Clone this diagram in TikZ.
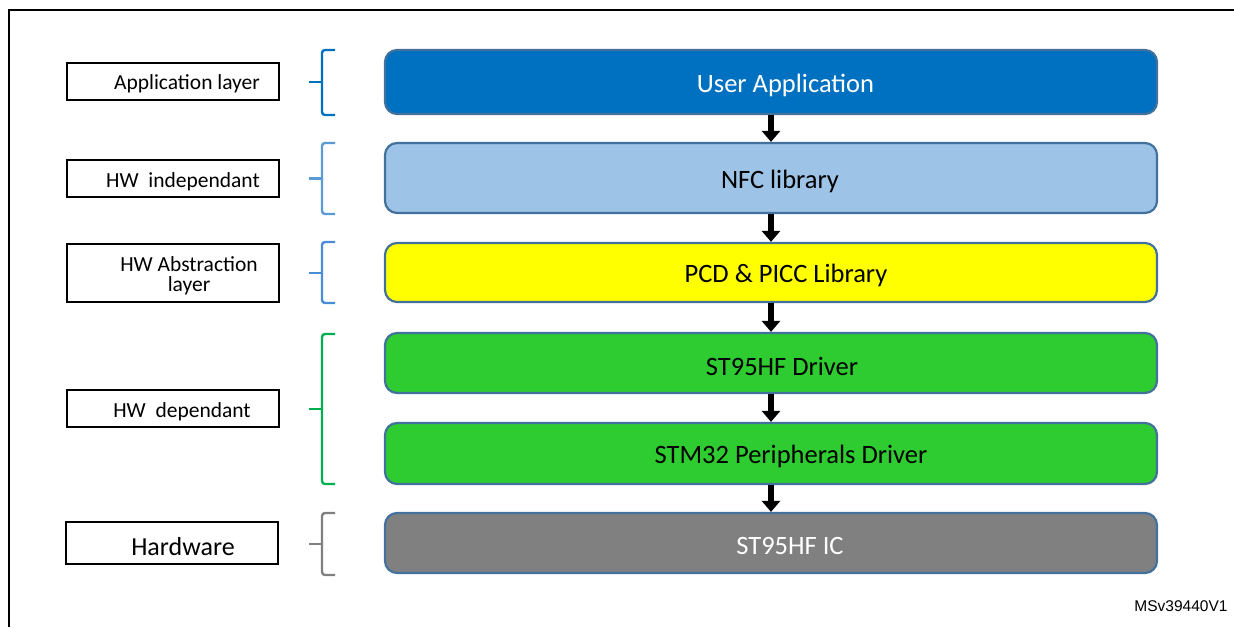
\documentclass[tikz,border=0pt]{standalone}
\usepackage{fontspec}
\setmainfont{Carlito}
\newfontfamily\arialfont{Liberation Sans}
\usetikzlibrary{arrows.meta}
\definecolor{appblue}{HTML}{0070C0}
\definecolor{libblue}{HTML}{9DC3E6}
\definecolor{edgeblue}{HTML}{41719C}
\definecolor{brlight}{HTML}{5B9BD5}
\definecolor{brmid}{HTML}{4A8CD6}
\definecolor{drvgreen}{HTML}{2ECC30}
\definecolor{brgreen}{HTML}{00B050}
\definecolor{icgray}{HTML}{808080}
\definecolor{pcdyellow}{HTML}{FFFF00}
\tikzset{
  layerbox/.style={draw=edgeblue, line width=2.2pt, rounded corners=12pt, minimum width=772pt, anchor=center, inner sep=0pt},
  layertext/.style={font=\fontsize{26.5}{28}\selectfont, inner sep=0pt, anchor=center},
  labelbox/.style={draw=black, line width=1.8pt, minimum width=212pt, inner sep=0pt, anchor=center},
  labeltext/.style={font=\fontsize{21.5}{22}\selectfont, align=center, inner sep=0pt},
  brace/.style={line width=2.4pt, rounded corners=3pt},
  flow/.style={line width=5.5pt, -{Triangle[width=18pt,length=11pt]}}
}
\begin{document}
\begin{tikzpicture}[x=1pt,y=-1pt]
\useasboundingbox (0,0) rectangle (1234,627);
\fill[white] (0,0) rectangle (1234,627);
% frame
\draw[line width=2.2pt] (9,627) -- (9,10) -- (1234,10);

% main layers
\node[layerbox, fill=appblue, minimum height=64pt] (ua) at (771,82) {};
\node[layertext, text=white] (uat) at (785.5,85) {User Application};
\node[layerbox, fill=libblue, minimum height=70pt] (nfc) at (771,178) {};
\node[layertext] (nfct) at (780,181) {NFC library};
\node[layerbox, fill=pcdyellow, minimum height=59pt] (pcd) at (771,272.5) {};
\node[layertext] (pcdt) at (786,275.5) {PCD \& PICC Library};
\node[layerbox, fill=drvgreen, minimum height=60pt] (drv) at (771,363) {};
\node[layertext] (drvt) at (782,366) {ST95HF Driver};
\node[layerbox, fill=drvgreen, minimum height=61pt] (stm) at (771,453.5) {};
\node[layertext] (stmt) at (791,456.5) {STM32 Peripherals Driver};
\node[layerbox, fill=icgray, minimum height=60pt] (ic) at (771,543) {};
\node[layertext, text=white] (ict) at (790,546) {ST95HF IC};

% arrows
\draw[flow] (ua.south) -- (nfc.north);
\draw[flow] (nfc.south) -- (pcd.north);
\draw[flow] (pcd.south) -- (drv.north);
\draw[flow] (drv.south) -- (stm.north);
\draw[flow] (stm.south) -- (ic.north);

% label boxes
\node[labelbox, minimum height=37pt] (l1) at (173,81.5) {};
\node[labeltext] (t1) at (187,84) {Application layer};
\node[labelbox, minimum height=37pt] (l2) at (173,178.5) {};
\node[labeltext] (t2) at (183,181.5) {HW\ \ independant};
\node[labelbox, minimum height=58pt] (l3) at (173,273) {};
\node[labeltext, font=\fontsize{21.5}{20}\selectfont] (t3) at (189,276) {HW Abstraction\\layer};
\node[labelbox, minimum height=37pt] (l4) at (173,408.5) {};
\node[labeltext] (t4) at (182,411.5) {HW\ \ dependant};
\node[labelbox, minimum height=42pt] (l5) at (172,543) {};
\node[labeltext, font=\fontsize{26}{28}\selectfont] (t5) at (183,546.5) {Hardware};

% braces
\draw[brace, appblue] (335,50) -- (322,50) -- (322,115) -- (335,115);
\draw[line width=2.4pt, appblue] (309,82) -- (322,82);
\draw[brace, brlight] (335,143) -- (322,143) -- (322,214) -- (335,214);
\draw[line width=2.4pt, brlight] (309,178.5) -- (322,178.5);
\draw[brace, brmid] (335,242) -- (322,242) -- (322,303) -- (335,303);
\draw[line width=2.4pt, brmid] (309,273) -- (322,273);
\draw[brace, brgreen] (335,334) -- (322,334) -- (322,484) -- (335,484);
\draw[line width=2.4pt, brgreen] (309,409) -- (322,409);
\draw[brace, icgray] (335,513) -- (322,513) -- (322,575) -- (335,575);
\draw[line width=2.4pt, icgray] (309,544) -- (322,544);

% reference id
\node[font=\arialfont\fontsize{15.5}{16}\selectfont, inner sep=0pt] (ref) at (1181,606) {MSv39440V1};
\end{tikzpicture}
\end{document}
